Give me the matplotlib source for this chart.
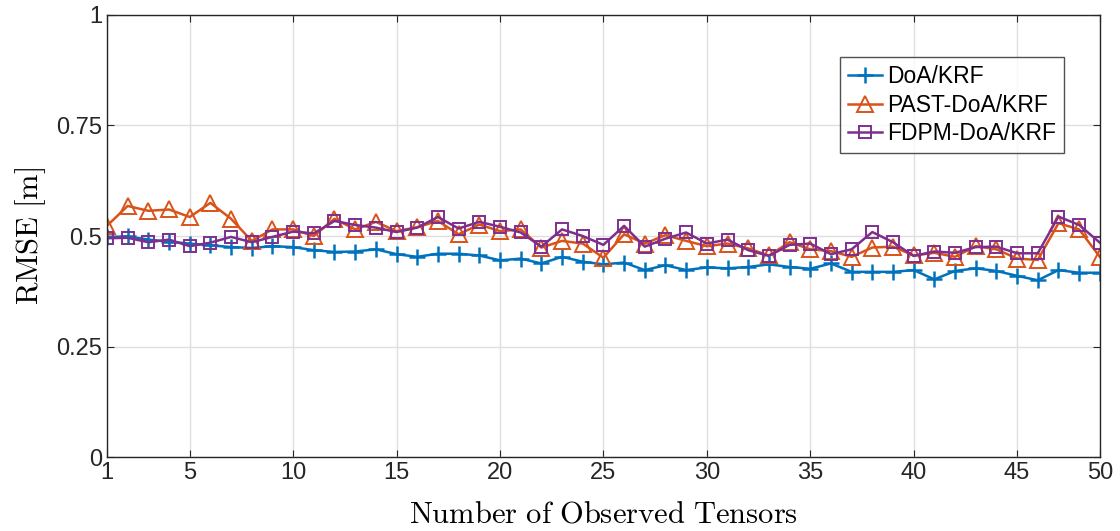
import matplotlib
matplotlib.use("Agg")
import matplotlib.pyplot as plt

plt.rcParams['font.family'] = ['Liberation Sans', 'DejaVu Sans']
plt.rcParams['mathtext.fontset'] = 'cm'

# 49 snapshots, last tick is labelled 50
n_obs = list(range(1, 50))
tick_pos = [1, 5, 10, 15, 20, 25, 30, 35, 40, 45, 49]
tick_lab = ['1', '5', '10', '15', '20', '25', '30', '35', '40', '45', '50']

doa_krf = [0.498, 0.499, 0.492, 0.487, 0.483, 0.479, 0.475, 0.473, 0.477, 0.475,
           0.468, 0.464, 0.465, 0.470, 0.459, 0.453, 0.460, 0.460, 0.456, 0.445,
           0.449, 0.438, 0.453, 0.442, 0.436, 0.440, 0.423, 0.434, 0.423, 0.429,
           0.427, 0.430, 0.436, 0.430, 0.426, 0.438, 0.419, 0.419, 0.419, 0.423,
           0.402, 0.421, 0.427, 0.421, 0.410, 0.400, 0.423, 0.417, 0.417]

past_doa = [0.523, 0.568, 0.557, 0.560, 0.543, 0.575, 0.539, 0.489, 0.515, 0.515,
            0.500, 0.539, 0.515, 0.532, 0.511, 0.520, 0.534, 0.504, 0.526, 0.511,
            0.515, 0.474, 0.489, 0.483, 0.451, 0.504, 0.483, 0.502, 0.489, 0.477,
            0.483, 0.472, 0.456, 0.486, 0.470, 0.466, 0.453, 0.474, 0.476, 0.456,
            0.462, 0.453, 0.477, 0.470, 0.449, 0.446, 0.529, 0.515, 0.453]

fdpm_doa = [0.495, 0.496, 0.486, 0.492, 0.477, 0.485, 0.498, 0.486, 0.498, 0.510,
            0.506, 0.534, 0.525, 0.519, 0.509, 0.519, 0.543, 0.517, 0.532, 0.521,
            0.508, 0.476, 0.515, 0.500, 0.480, 0.523, 0.476, 0.494, 0.508, 0.483,
            0.492, 0.468, 0.455, 0.480, 0.483, 0.459, 0.470, 0.509, 0.486, 0.455,
            0.465, 0.462, 0.475, 0.476, 0.461, 0.461, 0.544, 0.525, 0.485]

fig = plt.figure(figsize=(11.2, 5.31), dpi=100)
ax = fig.add_axes([0.0955, 0.139, 0.8865, 0.833])

ax.plot(n_obs, doa_krf, color='#0072BD', lw=1.8, marker='+', ms=11, mew=1.8,
        label='DoA/KRF')
ax.plot(n_obs, past_doa, color='#D95319', lw=1.8, marker='^', ms=11, mew=1.4,
        mfc='none', label='PAST-DoA/KRF')
ax.plot(n_obs, fdpm_doa, color='#7E2F8E', lw=1.8, marker='s', ms=8.5, mew=1.4,
        mfc='none', label='FDPM-DoA/KRF')

ax.set_xlim(1, 49)
ax.set_ylim(0, 1)
ax.set_xticks(tick_pos)
ax.set_xticklabels(tick_lab)
ax.set_yticks([0, 0.25, 0.5, 0.75, 1])
ax.set_yticklabels(['0', '0.25', '0.5', '0.75', '1'])
ax.tick_params(direction='in', labelsize=17, colors='#262626', length=5,
               top=True, right=True)
ax.grid(True, color='#dfdfdf', lw=1)
ax.set_axisbelow(True)
for s in ax.spines.values():
    s.set_color('#262626')
    s.set_linewidth(1)

ax.set_xlabel(r'$\mathrm{Number\ of\ Observed\ Tensors}$', fontsize=22, labelpad=11)
ax.set_ylabel(r'$\mathrm{RMSE\ [m]}$', fontsize=22, labelpad=6)

leg = ax.legend(loc='upper left', bbox_to_anchor=(0.738, 0.905), fontsize=16.5,
                fancybox=False, edgecolor='#262626', handlelength=1.5,
                handletextpad=0.2, borderpad=0.35, labelspacing=0.25,
                borderaxespad=0)
leg.get_frame().set_linewidth(1)

fig.savefig('out.png', dpi=100)
